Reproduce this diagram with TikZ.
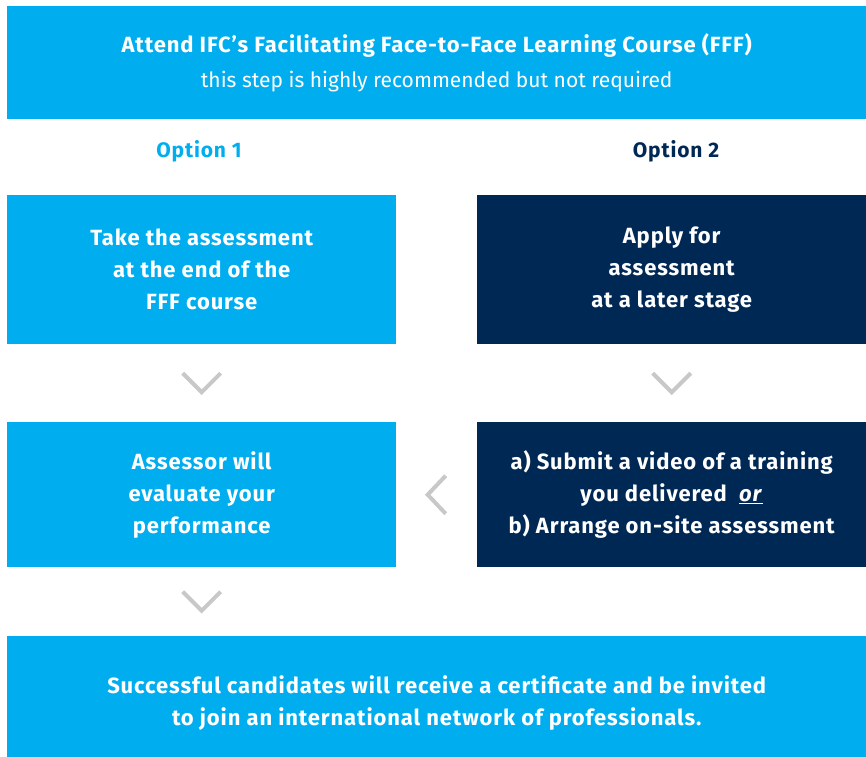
\documentclass[tikz,border=0pt]{standalone}
\usepackage{fontspec}
\setmainfont{Fira Sans}
\usetikzlibrary{calc}
\definecolor{ifcblue}{HTML}{00AEEF}
\definecolor{ifcnavy}{HTML}{002855}
\definecolor{chev}{HTML}{C8C8C8}
\newfontfamily\boxfont[LetterSpace=4]{Fira Sans}
\begin{document}
\begin{tikzpicture}[x=1pt,y=-1pt,
  box/.style={draw=none, minimum height=#1, inner sep=0pt, align=center, text=white, font=\boxfont\fontsize{22}{32}\selectfont\bfseries},
  lblue/.style={fill=ifcblue},
  dnavy/.style={fill=ifcnavy},
  optlabel/.style={font=\boxfont\fontsize{21}{24}\selectfont\bfseries},
  chevron/.style={draw=chev, line width=4pt, line cap=butt, line join=miter}]
\useasboundingbox (0,0) rectangle (866,756);
% top
\node[box=113pt, lblue, minimum width=859pt, anchor=north west] (top) at (7,6)
  {Attend IFC’s Facilitating Face-to-Face Learning Course (FFF)\\[3pt]
   {\mdseries\fontspec{Fira Sans}\fontsize{21}{24}\selectfont this step is highly recommended but not required}};
\node[optlabel, text=ifcblue] (opt1) at (199,151) {Option 1};
\node[optlabel, text=ifcnavy] (opt2) at (676,151) {Option 2};
% row 1
\node[box=149pt, lblue, minimum width=389pt, anchor=north west] (l1) at (7,195)
  {Take the assessment\\at the end of the\\FFF course};
\node[box=149pt, dnavy, minimum width=389pt, anchor=north west] (r1) at (477,195)
  {Apply for\\assessment\\at a later stage};
% row 2
\node[box=145pt, lblue, minimum width=389pt, anchor=north west] (l2) at (7,422)
  {Assessor will\\evaluate your\\performance};
\node[box=145pt, dnavy, minimum width=389pt, anchor=north west] (r2) at (477,422)
  {a) Submit a video of a training\\you delivered\ \ \underline{\textit{or}}\\b) Arrange on-site assessment};
% bottom
\node[box=134pt, lblue, minimum width=859pt, anchor=north west] (bot) at (7,636)
  {Successful candidates will receive a certificate and be invited\\to join an international network of professionals.};
% chevrons
\coordinate (c1) at ($(l1.south)!0.5!(l2.north)$);
\coordinate (c2) at ($(r1.south)!0.5!(r2.north)$);
\coordinate (c3) at ($(l2.south)!0.5!(l2.south |- bot.north)$);
\coordinate (c4) at ($(l2.east)!0.5!(r2.west)$);
\draw[chevron] ($(c1)+(-19,-10)$) -- ($(c1)+(0,9)$) -- ($(c1)+(19,-10)$);
\draw[chevron] ($(c2)+(-19,-10)$) -- ($(c2)+(0,9)$) -- ($(c2)+(19,-10)$);
\draw[chevron] ($(c3)+(-19,-10)$) -- ($(c3)+(0,9)$) -- ($(c3)+(19,-10)$);
\draw[chevron] ($(c4)+(9,-19)$) -- ($(c4)+(-9,0)$) -- ($(c4)+(9,19)$);
\end{tikzpicture}
\end{document}
